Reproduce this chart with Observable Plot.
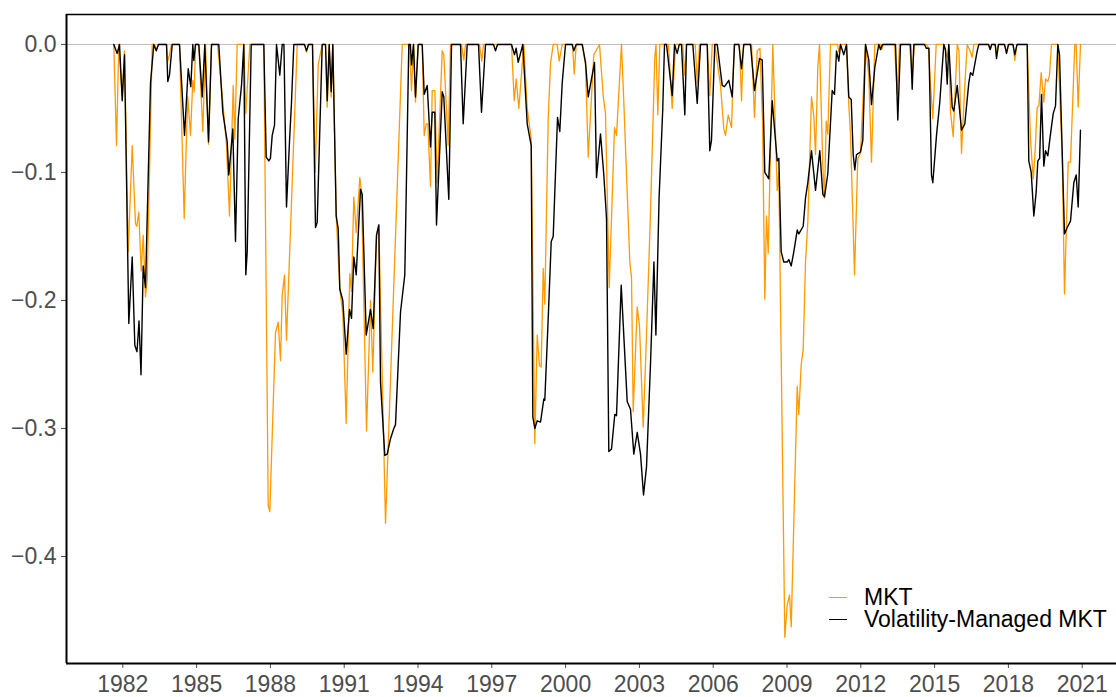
<!DOCTYPE html>
<html><head><meta charset="utf-8">
<script src="https://cdn.jsdelivr.net/npm/d3@7"></script>
<script src="https://cdn.jsdelivr.net/npm/@observablehq/plot@0.6"></script>
<style>
body{margin:0;background:#fff;}
#wrap{position:relative;width:1116px;height:697px;overflow:hidden;background:#fff;}
#legend{position:absolute;left:829px;top:586px;font-family:"Liberation Sans",Arial,sans-serif;font-size:23px;color:#000;line-height:22px;}
.row{display:flex;align-items:center;height:22px;white-space:nowrap;}
.key{width:18px;height:0;border-top:1.6px solid;margin-right:17px;}
.lab{display:inline-block;height:22px;line-height:22px;overflow:visible;}
</style></head><body><div id="wrap"><div id="legend"></div></div>
<script>
// ---- data (decimal year, drawdown) ----
const seriesNames = ["MKT", "Volatility-Managed MKT"];
const seriesColors = ["#FF9A00", "#000000"];
const xTicks = [1982,1985,1988,1991,1994,1997,2000,2003,2006,2009,2012,2015,2018,2021];
const yTicks = [0,-0.1,-0.2,-0.3,-0.4];

const mktDates = [1981.634,1981.744,1981.837,1981.976,1982.069,1982.220,1982.382,1982.516,1982.569,1982.650,1982.748,1982.829,1982.923,1982.992,1983.195,1983.289,1983.358,1983.431,1983.776,1983.829,1983.898,1983.980,1984.305,1984.496,1984.589,1984.642,1984.752,1984.846,1984.902,1984.955,1985.089,1985.252,1985.362,1985.484,1985.606,1985.850,1986.065,1986.215,1986.337,1986.488,1986.553,1986.650,1986.919,1987.000,1987.163,1987.732,1987.911,1987.976,1988.207,1988.317,1988.411,1988.480,1988.573,1988.654,1989.089,1989.386,1989.467,1989.549,1989.711,1989.821,1989.943,1990.106,1990.240,1990.309,1990.390,1990.472,1990.537,1990.675,1990.821,1990.943,1991.081,1991.228,1991.297,1991.390,1991.488,1991.634,1991.703,1991.907,1992.069,1992.163,1992.313,1992.407,1992.679,1992.813,1993.358,1993.654,1993.736,1993.817,1993.898,1994.008,1994.171,1994.252,1994.333,1994.398,1994.508,1994.577,1994.683,1994.780,1994.984,1995.049,1995.228,1995.321,1995.768,1995.862,1995.931,1996.500,1996.593,1996.663,1997.801,1997.911,1997.992,1998.098,1998.301,1998.439,1998.602,1998.748,1998.846,1998.939,1999.008,1999.089,1999.154,1999.293,1999.386,1999.496,1999.659,1999.740,1999.862,2000.280,2000.350,2000.431,2000.675,2000.809,2000.919,2001.146,2001.378,2001.528,2001.622,2001.772,2001.988,2002.069,2002.272,2002.366,2002.610,2002.679,2002.748,2002.911,2003.004,2003.154,2003.289,2003.451,2003.626,2003.675,2003.748,2003.829,2004.180,2004.333,2004.468,2004.760,2004.846,2004.915,2005.270,2005.350,2005.440,2005.760,2005.862,2005.960,2006.065,2006.297,2006.431,2006.500,2006.610,2006.744,2006.854,2007.069,2007.150,2007.232,2007.557,2007.679,2007.789,2007.900,2008.004,2008.098,2008.167,2008.236,2008.423,2008.602,2008.667,2008.911,2009.008,2009.102,2009.171,2009.415,2009.480,2009.577,2009.659,2009.752,2009.846,2009.996,2010.089,2010.159,2010.252,2010.321,2010.455,2010.524,2010.593,2010.659,2010.768,2011.053,2011.110,2011.170,2011.419,2011.512,2011.581,2011.744,2011.878,2011.988,2012.191,2012.325,2012.435,2012.569,2012.800,2012.850,2012.920,2013.370,2013.480,2013.573,2013.980,2014.089,2014.183,2014.670,2014.750,2014.830,2014.927,2015.065,2015.374,2015.512,2015.577,2015.646,2015.756,2015.919,2015.990,2016.093,2016.228,2016.325,2016.440,2016.528,2016.593,2017.191,2017.260,2017.320,2017.463,2017.516,2017.598,2017.841,2017.923,2018.004,2018.187,2018.260,2018.350,2018.764,2018.898,2019.008,2019.073,2019.171,2019.240,2019.333,2019.439,2019.508,2019.602,2019.671,2019.752,2020.008,2020.187,2020.280,2020.431,2020.524,2020.699,2020.756,2020.837,2020.930];
const mktValues = [0,-0.079,0,-0.040,-0.005,-0.162,-0.079,-0.140,-0.142,-0.131,-0.177,-0.149,-0.197,-0.184,0,0,-0.005,0,0,-0.013,-0.008,0,0,-0.136,-0.071,-0.041,-0.071,-0.028,-0.037,0,0,-0.068,0,-0.078,0,0,-0.045,-0.079,-0.134,-0.032,-0.074,0,0,-0.054,0,0,-0.360,-0.365,-0.225,-0.217,-0.247,-0.196,-0.180,-0.231,0,0,-0.006,0,0,-0.100,-0.016,0,0,-0.049,0,-0.041,0,-0.134,-0.191,-0.210,-0.296,-0.179,-0.193,-0.119,-0.147,-0.104,-0.115,-0.302,-0.200,-0.256,-0.149,-0.141,-0.374,-0.300,0,0,-0.036,0,-0.045,0,0,-0.071,-0.062,-0.062,-0.111,-0.036,-0.036,-0.108,-0.005,-0.008,-0.079,0,0,-0.012,0,0,-0.013,0,0,-0.044,-0.027,-0.050,0,-0.050,-0.074,-0.312,-0.227,-0.251,-0.252,-0.175,-0.203,-0.058,-0.015,0,0,-0.013,0,0,-0.023,0,0,-0.016,-0.088,-0.008,0,-0.040,-0.054,-0.190,-0.065,-0.071,0,-0.045,-0.170,-0.182,-0.287,-0.205,-0.220,-0.299,-0.227,-0.131,-0.010,0,-0.055,0,0,-0.050,0,0,-0.024,0,0,-0.030,0,0,-0.040,0,0,-0.032,-0.066,-0.071,-0.055,-0.065,0,0,-0.044,0,0,-0.057,-0.005,-0.003,-0.060,-0.199,-0.134,-0.163,0,-0.114,-0.100,-0.463,-0.438,-0.430,-0.455,-0.267,-0.289,-0.250,-0.238,-0.170,-0.139,-0.041,-0.056,-0.086,-0.018,0,-0.095,-0.120,-0.060,-0.070,0,0,-0.006,0,0,-0.047,-0.070,-0.180,-0.089,-0.085,0,-0.025,-0.092,0,0,-0.004,0,0,-0.039,0,0,-0.022,0,0,-0.003,-0.030,-0.058,0,0,-0.010,0,-0.053,-0.072,0,-0.005,-0.085,-0.032,0,-0.005,-0.010,0,0,-0.004,0,0,-0.006,0,0,-0.007,0,0,-0.0125,0,0,-0.074,-0.105,-0.088,-0.049,-0.048,-0.022,-0.045,-0.027,-0.029,-0.024,0,0,-0.087,-0.195,-0.092,-0.092,0,0,-0.049,0];

const vmDates = [1981.634,1981.772,1981.866,1981.976,1982.069,1982.244,1982.382,1982.488,1982.577,1982.659,1982.740,1982.829,1982.923,1983.126,1983.260,1983.358,1983.451,1983.776,1983.829,1983.898,1984.008,1984.305,1984.508,1984.659,1984.764,1984.846,1984.886,1984.955,1985.089,1985.228,1985.333,1985.484,1985.606,1985.902,1986.065,1986.244,1986.309,1986.472,1986.581,1986.691,1986.825,1986.919,1987.000,1987.057,1987.220,1987.732,1987.829,1987.935,1988.000,1988.073,1988.167,1988.248,1988.382,1988.480,1988.550,1988.654,1988.776,1988.858,1988.951,1989.386,1989.467,1989.549,1989.711,1989.833,1989.902,1990.106,1990.240,1990.309,1990.390,1990.472,1990.537,1990.675,1990.756,1990.821,1990.943,1991.081,1991.215,1991.297,1991.390,1991.488,1991.663,1991.732,1991.894,1992.069,1992.179,1992.313,1992.407,1992.476,1992.650,1992.748,1992.882,1993.016,1993.085,1993.289,1993.463,1993.626,1993.690,1993.736,1993.817,1993.898,1994.008,1994.171,1994.252,1994.374,1994.508,1994.577,1994.683,1994.752,1994.984,1995.049,1995.252,1995.362,1995.728,1995.837,1996.000,1996.459,1996.581,1996.744,1997.069,1997.150,1997.232,1997.801,1997.923,1997.990,1998.073,1998.260,1998.439,1998.602,1998.667,1998.748,1998.846,1998.980,1999.114,1999.154,1999.293,1999.415,1999.496,1999.671,1999.764,1999.862,1999.996,2000.268,2000.333,2000.431,2000.675,2000.809,2000.919,2001.175,2001.256,2001.419,2001.553,2001.663,2001.756,2001.866,2002.000,2002.069,2002.260,2002.504,2002.638,2002.772,2002.911,2003.045,2003.167,2003.289,2003.450,2003.590,2003.670,2003.800,2003.950,2004.020,2004.102,2004.333,2004.427,2004.537,2004.620,2004.711,2004.846,2004.915,2005.171,2005.350,2005.484,2005.756,2005.862,2005.930,2006.065,2006.163,2006.366,2006.459,2006.634,2006.772,2006.866,2007.041,2007.150,2007.244,2007.516,2007.679,2007.882,2007.992,2008.098,2008.260,2008.398,2008.602,2008.667,2008.764,2008.870,2009.008,2009.073,2009.171,2009.276,2009.415,2009.480,2009.659,2009.752,2009.846,2009.996,2010.159,2010.333,2010.455,2010.524,2010.659,2010.837,2010.931,2011.012,2011.106,2011.175,2011.309,2011.419,2011.512,2011.610,2011.691,2011.756,2011.825,2011.988,2012.081,2012.191,2012.325,2012.435,2012.569,2012.732,2012.800,2012.880,2013.411,2013.504,2013.614,2014.020,2014.089,2014.154,2014.589,2014.660,2014.770,2014.874,2014.927,2015.077,2015.211,2015.374,2015.440,2015.512,2015.577,2015.715,2015.780,2015.919,2016.093,2016.228,2016.390,2016.459,2016.553,2016.732,2016.797,2017.191,2017.260,2017.320,2017.463,2017.516,2017.598,2017.841,2017.923,2018.004,2018.187,2018.260,2018.350,2018.764,2018.829,2018.927,2019.033,2019.130,2019.195,2019.270,2019.346,2019.439,2019.508,2019.602,2019.711,2019.821,2019.915,2020.008,2020.077,2020.280,2020.390,2020.524,2020.659,2020.756,2020.837,2020.930];
const vmValues = [0,-0.007,0,-0.044,-0.008,-0.218,-0.166,-0.235,-0.240,-0.216,-0.258,-0.173,-0.190,-0.030,0,-0.005,0,0,-0.029,-0.024,0,0,-0.071,-0.019,-0.033,0,-0.0125,0,0,-0.041,0,-0.076,0,0,-0.053,-0.076,-0.102,-0.066,-0.154,-0.058,-0.032,0,-0.180,-0.162,0,0,-0.088,-0.091,-0.089,-0.071,-0.063,0,-0.024,0,0,-0.127,-0.076,-0.045,0,0,-0.005,0,0,-0.143,-0.139,0,0,-0.044,0,-0.037,0,-0.134,-0.144,-0.191,-0.200,-0.242,-0.207,-0.214,-0.166,-0.180,-0.113,-0.117,-0.227,-0.207,-0.222,-0.149,-0.141,-0.264,-0.321,-0.320,-0.308,-0.300,-0.297,-0.209,-0.180,0,0,-0.016,0,-0.041,0,0,-0.039,-0.032,-0.080,-0.053,-0.053,-0.141,-0.037,-0.041,-0.121,0,0,-0.062,0,0,-0.053,0,0,-0.005,0,0,-0.008,-0.003,-0.014,0,-0.062,-0.079,-0.291,-0.300,-0.294,-0.295,-0.277,-0.278,-0.214,-0.154,-0.150,-0.057,-0.068,-0.030,0,0,-0.005,0,0,-0.014,-0.041,-0.014,-0.104,-0.070,-0.102,-0.136,-0.318,-0.316,-0.289,-0.290,-0.188,-0.279,-0.285,-0.320,-0.303,-0.320,-0.352,-0.330,-0.250,-0.170,-0.227,-0.120,-0.050,0,0,-0.040,0,-0.007,0,0,-0.055,0,0,-0.046,0,0,-0.083,-0.075,0,0,-0.032,-0.033,-0.028,-0.041,0,0,-0.019,0,0,-0.036,-0.011,-0.012,-0.100,-0.105,-0.044,-0.091,-0.089,-0.162,-0.170,-0.170,-0.168,-0.173,-0.162,-0.145,-0.148,-0.142,-0.120,-0.108,-0.083,-0.114,-0.083,-0.117,-0.119,-0.101,-0.036,-0.039,-0.005,-0.013,0,-0.008,0,-0.041,-0.043,-0.086,-0.098,-0.086,-0.084,-0.075,0,-0.012,-0.047,-0.018,0,-0.004,0,0,-0.059,0,0,-0.035,0,0,-0.003,-0.003,-0.102,-0.108,-0.071,-0.045,0,-0.004,-0.031,0,-0.049,-0.052,-0.032,-0.067,-0.062,-0.030,-0.022,-0.024,-0.005,0,0,-0.004,0,0,-0.011,0,0,-0.007,0,0,-0.008,0,0,-0.091,-0.100,-0.134,-0.115,-0.091,-0.089,-0.039,-0.095,-0.083,-0.087,-0.070,-0.054,-0.048,0,-0.008,-0.148,-0.143,-0.138,-0.108,-0.102,-0.127,-0.067];

// ---- build tables ----
const mkt = mktDates.map((d, i) => ({date: d, dd: mktValues[i]}));
const vm = vmDates.map((d, i) => ({date: d, dd: vmValues[i]}));

const X0 = 1979.711, X1 = 2022.394, Y0 = -0.4836, Y1 = 0.0234;

const chart = Plot.plot({
  width: 1116, height: 697,
  marginLeft: 66, marginRight: 0, marginTop: 14, marginBottom: 34,
  style: {fontFamily: '"Liberation Sans", Arial, sans-serif', fontSize: "23px", color: "#4d4d4d", background: "#fff", overflow: "visible"},
  x: {type: "linear", domain: [X0, X1], ticks: xTicks, tickFormat: d => String(d), tickSize: 5, tickPadding: 7, label: null},
  y: {domain: [Y0, Y1], ticks: yTicks, tickFormat: d => (d === 0 ? "0.0" : "\u2212" + Math.abs(d).toFixed(1)), tickSize: 5, tickPadding: 5, label: null},
  marks: [
    Plot.ruleY([0], {stroke: "#bebebe", strokeWidth: 1}),
    Plot.line(mkt, {x: "date", y: "dd", stroke: seriesColors[0], strokeWidth: 1.3}),
    Plot.line(vm, {x: "date", y: "dd", stroke: seriesColors[1], strokeWidth: 1.4}),
    Plot.ruleX([X0], {stroke: "#000", strokeWidth: 2}),
    Plot.ruleY([Y0], {stroke: "#000", strokeWidth: 2}),
    Plot.ruleY([Y1], {stroke: "#000", strokeWidth: 1.5})
  ]
});
const wrap = document.getElementById("wrap");
wrap.insertBefore(chart, wrap.firstChild);

const legend = document.getElementById("legend");
seriesNames.forEach((name, i) => {
  const row = document.createElement("div");
  row.className = "row";
  const key = document.createElement("span");
  key.className = "key";
  key.style.borderTopColor = seriesColors[i];
  const label = document.createElement("span");
  label.className = "lab";
  label.textContent = name;
  row.appendChild(key); row.appendChild(label);
  legend.appendChild(row);
});
</script></body></html>
